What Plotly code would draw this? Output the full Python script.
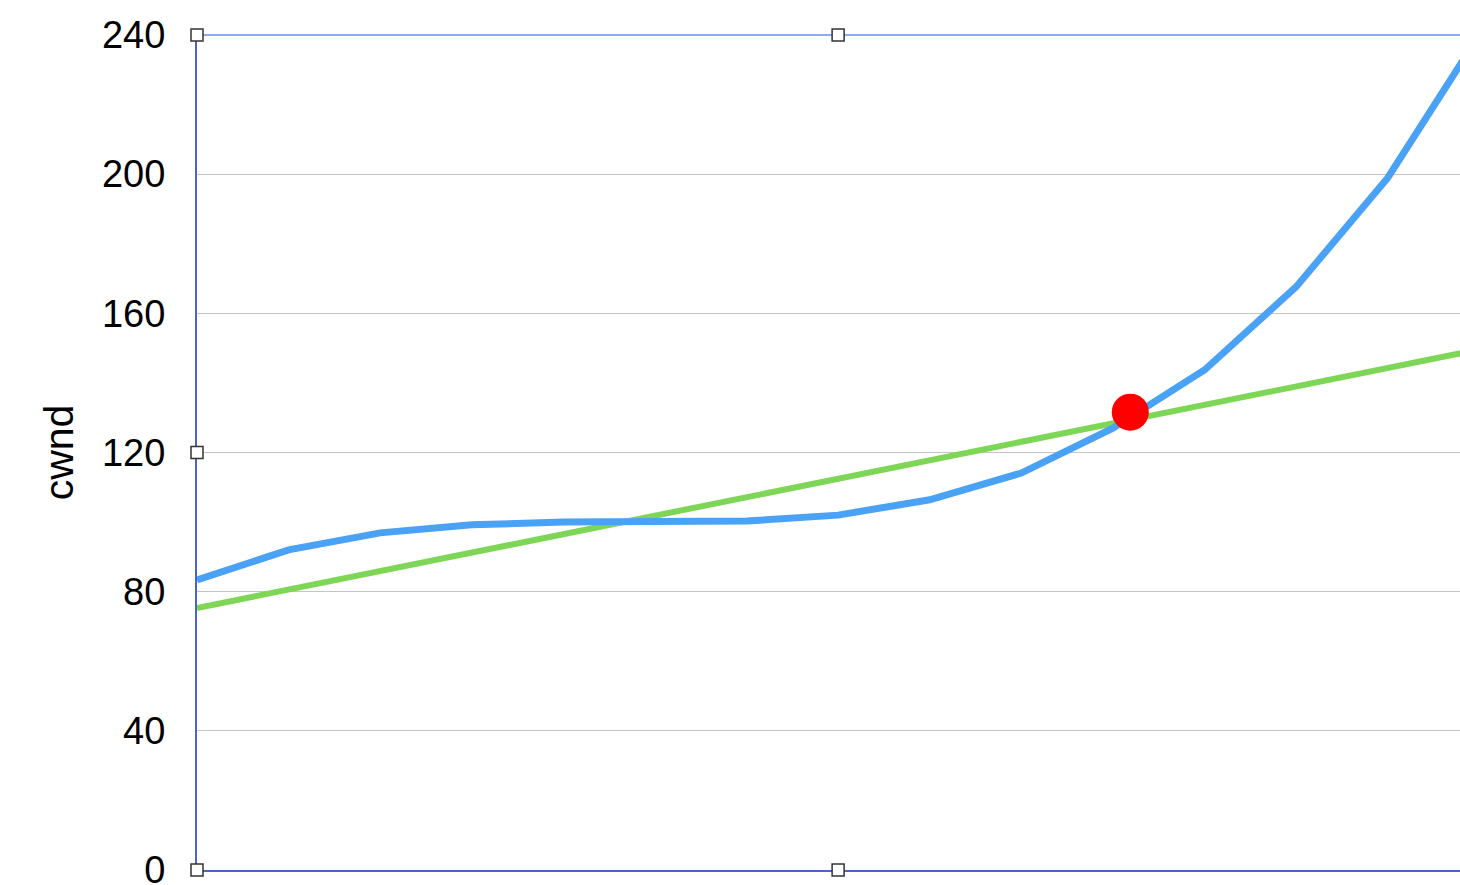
import plotly.graph_objects as go

x_vals = list(range(15))
blue_vals = [83.4, 92.0, 96.9, 99.2, 100.0, 100.0, 100.3, 102.0, 106.4, 114.1, 127.0, 143.7, 167.6, 198.9, 240.0]
green_vals = [75.3, 80.6, 85.9, 91.2, 96.5, 101.8, 107.1, 112.4, 117.7, 123.0, 128.3, 133.6, 138.9, 144.2, 149.6]
point_x = [10.19]
point_y = [131.6]
y_ticks = [0, 40, 80, 120, 160, 200, 240]
x_max = 13.79
y_max = 240

fig = go.Figure()
fig.add_trace(go.Scatter(x=x_vals, y=green_vals, mode="lines",
                         line=dict(color="#7ed656", width=6), hoverinfo="skip"))
fig.add_trace(go.Scatter(x=x_vals, y=blue_vals, mode="lines",
                         line=dict(color="#4aa2f6", width=7), hoverinfo="skip"))
fig.add_trace(go.Scatter(x=point_x, y=point_y, mode="markers",
                         marker=dict(color="#ff0000", size=37, line=dict(width=0)), hoverinfo="skip"))

# top frame line
fig.add_shape(type="line", xref="paper", yref="paper", x0=0, x1=1, y0=1, y1=1,
              line=dict(color="#8faaee", width=2), layer="above")

# selection handles (paper coords so they are not clipped)
handles = [(0, 240), (7, 240), (0, 120), (0, 0), (7, 0)]
for hx, hy in handles:
    fig.add_shape(type="rect", xref="paper", yref="paper", xsizemode="pixel", ysizemode="pixel",
                  xanchor=hx / x_max, yanchor=hy / y_max, x0=-6, x1=6, y0=-6, y1=6,
                  fillcolor="white", line=dict(color="#333333", width=1.5), layer="above")

fig.update_layout(
    width=1460, height=885,
    margin=dict(l=197, r=0, t=35, b=15, autoexpand=False),
    paper_bgcolor="white", plot_bgcolor="white",
    showlegend=False,
    font=dict(family="Liberation Sans, Arial, sans-serif", color="#000000"),
)
fig.update_xaxes(range=[0, x_max], showgrid=False, zeroline=False, showticklabels=False,
                 showline=True, linecolor="#4a66c4", linewidth=2, ticks="", automargin=False)
fig.update_yaxes(range=[0, y_max], tickvals=y_ticks, showgrid=True, gridcolor="#c4c4c4", gridwidth=1,
                 zeroline=False, showline=True, linecolor="#4a66c4", linewidth=2, ticks="",
                 automargin=False,
                 tickfont=dict(size=38), ticklabelstandoff=22, ticklabeloverflow="allow",
                 title=dict(text="cwnd", font=dict(size=41), standoff=16))

fig.write_html(
    "out.html",
    config={"displayModeBar": False},
    post_script="document.body.style.margin='0';document.body.style.overflow='hidden';",
)
